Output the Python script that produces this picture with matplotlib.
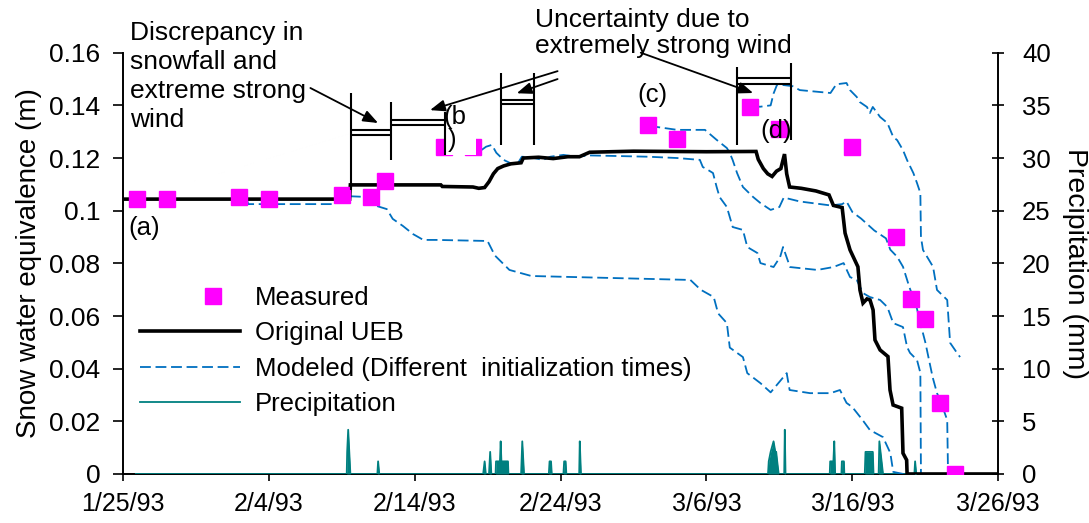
import matplotlib
matplotlib.use("Agg")
import matplotlib.pyplot as plt
from matplotlib.lines import Line2D
from matplotlib.patches import Rectangle
from matplotlib.ticker import FuncFormatter
from matplotlib.legend_handler import HandlerLine2D

plt.rcParams['font.family'] = ['Liberation Sans', 'DejaVu Sans']

# x values are days after 1/25/93
tick_days = [0, 10, 20, 30, 40, 50, 60]
tick_labels = ["1/25/93", "2/4/93", "2/14/93", "2/24/93", "3/6/93", "3/16/93", "3/26/93"]
swe_ticks = [0, 0.02, 0.04, 0.06, 0.08, 0.10, 0.12, 0.14, 0.16]
precip_ticks = [0, 5, 10, 15, 20, 25, 30, 35, 40]

measured_day = [1, 3, 8, 10, 15, 17, 18, 22, 24, 36, 38, 43, 45, 50, 53, 54, 55, 56, 57]
measured_swe = [0.1044, 0.1044, 0.1053, 0.1044, 0.1060, 0.1053, 0.1113, 0.1243, 0.1243,
                0.1325, 0.1273, 0.1395, 0.1310, 0.1243, 0.0901, 0.0665, 0.0589, 0.0270, 0.0]

ueb_day = [0, 15.55, 15.6, 21.8, 21.9, 24.0, 24.4, 24.8, 25.1, 25.4, 25.7, 26.1, 26.6, 27.3,
           27.45, 28.5, 29.5, 30.5, 31.3, 32.0, 35.0, 40.0, 43.4, 43.55, 43.9, 44.2, 44.5,
           44.8, 45.1, 45.35, 45.5, 45.7, 46.5, 47.5, 48.4, 48.7, 49.3, 49.5, 49.84, 50.38,
           50.52, 50.73, 51.0, 51.21, 51.42, 51.55, 51.9, 52.44, 52.58, 52.79, 53.38, 53.47,
           53.72, 53.75, 60.0]
ueb_swe = [0.1044, 0.1044, 0.1098, 0.1098, 0.1092, 0.1090, 0.1085, 0.1088, 0.1110, 0.1140,
           0.1160, 0.1170, 0.1178, 0.1182, 0.1200, 0.1203, 0.1198, 0.1205, 0.1205, 0.1222,
           0.1226, 0.1224, 0.1225, 0.1195, 0.1160, 0.1140, 0.1130, 0.1150, 0.1160, 0.1215,
           0.1140, 0.1090, 0.1085, 0.1075, 0.1060, 0.1020, 0.1012, 0.0915, 0.0851, 0.0787,
           0.0699, 0.0649, 0.0665, 0.0661, 0.0623, 0.0509, 0.0471, 0.0446, 0.0319, 0.0262,
           0.0250, 0.0079, 0.0053, 0.0, 0.0]

# model runs started at different initialization times
run_a_day = [0, 8.5, 8.6, 14.5, 15.5, 16.8, 17.4, 18.1, 18.5, 19.2, 19.9, 20.6, 21.5, 25.0,
             25.5, 26.5, 28.0, 38.9, 39.6, 40.5, 40.8, 41.4, 41.6, 42.5, 42.8, 43.7, 44.4,
             45.5, 45.7, 47.1, 48.5, 49.15, 49.6, 50.0, 50.7, 51.2, 52.1, 52.6, 52.8, 53.5]
run_a_swe = [0.1044, 0.1044, 0.1025, 0.1025, 0.1055, 0.1052, 0.1018, 0.1006, 0.0969, 0.0942,
             0.0911, 0.0889, 0.0889, 0.0885, 0.0830, 0.0775, 0.0752, 0.0737, 0.0700, 0.0672,
             0.0610, 0.0573, 0.0480, 0.0444, 0.0383, 0.0345, 0.0310, 0.0383, 0.0319, 0.0307,
             0.0307, 0.0319, 0.0270, 0.0254, 0.0205, 0.0167, 0.0140, 0.0080, 0.0008, 0.0]

run_b_day = [24.6, 24.9, 25.3, 25.6, 26.1, 26.55, 27.0, 27.35, 27.9, 28.8, 29.3, 30.2, 31.1,
             32.0, 36.0, 38.0, 39.55, 39.75, 40.1, 40.45, 40.7, 40.9, 41.4, 41.8, 42.5, 42.8,
             43.5, 43.7, 44.6, 45.05, 45.25, 45.73, 46.4, 47.6, 48.7, 49.4, 49.84, 50.3,
             50.73, 51.2, 51.9, 52.4, 52.8, 53.47, 53.75, 53.95, 54.43, 54.66, 54.7, 55.0]
run_b_swe = [0.1231, 0.1243, 0.1250, 0.1220, 0.1193, 0.1181, 0.1173, 0.1205, 0.1203, 0.1193,
             0.1205, 0.1212, 0.1205, 0.1210, 0.1205, 0.1200, 0.1193, 0.1166, 0.1155, 0.1143,
             0.1090, 0.1052, 0.1014, 0.0938, 0.0927, 0.0862, 0.0839, 0.0801, 0.0786, 0.0824,
             0.0862, 0.0786, 0.0782, 0.0775, 0.0786, 0.0801, 0.0748, 0.0737, 0.0687, 0.0672,
             0.0661, 0.0634, 0.0573, 0.0558, 0.0482, 0.0460, 0.0433, 0.0384, 0.0, 0.0]

run_c_day = [36.1, 36.6, 38.0, 39.9, 40.7, 41.4, 41.6, 41.8, 42.1, 42.5, 43.2, 43.7, 44.4,
             45.0, 45.3, 46.4, 48.5, 49.3, 49.6, 50.0, 50.6, 51.5, 52.3, 52.6, 53.07, 53.47,
             53.9, 54.4, 54.66, 55.0, 55.5, 55.8, 56.0, 56.5, 56.55, 56.6]
run_c_swe = [0.1325, 0.1318, 0.1307, 0.1307, 0.1269, 0.1238, 0.1219, 0.1192, 0.1143, 0.1090,
             0.1052, 0.1029, 0.1003, 0.1014, 0.1050, 0.1035, 0.1020, 0.1025, 0.1035, 0.0995,
             0.0970, 0.0925, 0.0895, 0.0852, 0.0825, 0.0787, 0.0711, 0.0634, 0.0573, 0.0500,
             0.0368, 0.0307, 0.0283, 0.0205, 0.0025, 0.0]

run_d_day = [43.1, 43.7, 44.4, 44.6, 44.85, 45.9, 46.4, 48.5, 48.9, 49.6, 49.84, 50.3, 50.5,
             51.0, 51.2, 51.4, 51.9, 52.4, 52.8, 53.07, 53.47, 53.75, 54.18, 54.43, 54.66,
             54.7, 54.84, 55.53, 55.8, 56.5, 56.7, 57.17, 57.38]
run_d_swe = [0.1395, 0.1395, 0.1400, 0.1445, 0.1480, 0.1473, 0.1458, 0.1447, 0.1480, 0.1485,
             0.1458, 0.1432, 0.1413, 0.1394, 0.1371, 0.1394, 0.1356, 0.1333, 0.1280, 0.1268,
             0.1230, 0.1192, 0.1143, 0.1105, 0.1067, 0.0900, 0.0851, 0.0787, 0.0699, 0.0661,
             0.0498, 0.0460, 0.0444]

runs = [(run_a_day, run_a_swe), (run_b_day, run_b_swe),
        (run_c_day, run_c_swe), (run_d_day, run_d_swe)]

precip_day = [0.9, 15.35, 15.38, 15.45, 15.6, 17.45, 17.5, 17.58, 24.7, 24.8, 24.88, 25.1, 25.18,
              25.26, 25.55, 25.58, 25.85, 25.9, 25.95, 26.4, 26.43, 27.3, 27.38, 27.5, 29.2,
              29.25, 29.35, 29.4, 30.2, 30.25, 30.35, 30.4, 31.28, 31.32, 31.4, 44.22, 44.27,
              44.4, 44.6, 44.72, 44.78, 44.85, 44.95, 45.33, 45.37, 45.42, 48.45, 48.48, 48.7,
              48.76, 48.82, 49.25, 49.28, 49.42, 49.45, 50.85, 50.9, 51.4, 51.45, 51.8, 51.85,
              52.1, 54.25, 54.3, 54.38, 60.0]
precip_mm = [0, 0, 2.1, 4.2, 0, 0, 1.2, 0, 0, 1.2, 0, 0, 2.1,
             0, 0, 1.2, 1.2, 3.1, 1.2, 1.2, 0, 0, 3.1, 0, 0,
             1.2, 1.2, 0, 0, 1.2, 1.2, 0, 0, 3.1, 0, 0, 1.2,
             2.1, 3.1, 2.1, 2.1, 1.2, 0, 0, 4.2, 0, 0, 1.2, 1.2,
             3.1, 0, 0, 1.2, 1.2, 0, 0, 2.1, 2.1, 0, 0, 3.1,
             0, 0, 1.2, 0, 0]

BLUE = '#0070C0'
TEAL = '#008080'
MAGENTA = '#FF00FF'
FS = 18.5


class OffsetMarkerHandler(HandlerLine2D):
    """Legend handler that puts a lone marker towards the right of the handle."""

    def get_xdata(self, legend, xdescent, ydescent, width, height, fontsize):
        pos = -xdescent + 0.73 * width
        return [pos, pos], [pos]


fig = plt.figure(figsize=(10.89, 5.23), dpi=100)
ax = fig.add_axes([0.1127, 0.0937, 0.8040, 0.8055])
ax2 = ax.twinx()

# precipitation drawn inside the SWE axes but scaled by the right-hand axis
ax.fill_between(precip_day, precip_mm, 0, color=TEAL, lw=0, zorder=2.6,
                transform=ax2.transData)
ax.plot(precip_day, precip_mm, color=TEAL, lw=1.3, zorder=2.7, transform=ax2.transData)

for d, s in runs:
    ax.plot(d, s, color=BLUE, lw=1.3, ls=(0, (6, 2.6)), zorder=3)

ax.plot(ueb_day, ueb_swe, color='black', lw=2.6, zorder=4, solid_joinstyle='miter')
ax.plot(measured_day, measured_swe, ls='none', marker='s', ms=11.5, color=MAGENTA,
        mec=MAGENTA, zorder=5)

# label box for (b)
ax.add_patch(Rectangle((22.1, 0.1212), 2.1, 0.0163, facecolor='white', edgecolor='none',
                       zorder=6))

ax.set_xlim(0, 60)
ax.set_ylim(0, 0.16)
ax2.set_ylim(0, 40)

ax.set_xticks(tick_days)
ax.set_xticklabels(tick_labels)
ax.set_yticks(swe_ticks)
ax.yaxis.set_major_formatter(FuncFormatter(lambda v, p: f"{v:g}"))
ax2.set_yticks(precip_ticks)

for sp in ['top', 'right']:
    ax.spines[sp].set_visible(False)
for sp in ['top', 'left', 'bottom']:
    ax2.spines[sp].set_visible(False)
for sp in ax.spines.values():
    sp.set_linewidth(1.4)
ax2.spines['right'].set_linewidth(1.4)

ax.tick_params(axis='y', direction='out', length=7, width=1.2, labelsize=19, pad=9)
ax.tick_params(axis='x', direction='out', length=5, width=1.2, labelsize=18, pad=8)
ax2.tick_params(axis='y', direction='inout', length=9, width=1.2, labelsize=18.5, pad=12.5)

ax.set_ylabel("Snow water equivalence (m)", fontsize=20, labelpad=5.5)
ax2.set_ylabel("Precipitation (mm)", fontsize=20.5, rotation=270, labelpad=27)

# brackets marking the periods of interest
lk = dict(color='black', lw=1.5, zorder=7, clip_on=False, solid_capstyle='butt')
ax.plot([15.62, 15.62], [0.1079, 0.1447], **lk)
ax.plot([18.39, 18.39], [0.1193, 0.1414], **lk)
ax.plot([15.62, 18.39], [0.1306, 0.1306], **lk)
ax.plot([15.62, 18.39], [0.1288, 0.1288], **lk)
ax.plot([18.39, 22.09], [0.1345, 0.1345], **lk)
ax.plot([18.39, 22.09], [0.1326, 0.1326], **lk)
ax.plot([22.09, 22.09], [0.1212, 0.1376], **lk)
ax.plot([25.92, 25.92], [0.1250, 0.1523], **lk)
ax.plot([28.21, 28.21], [0.1250, 0.1523], **lk)
ax.plot([25.92, 28.21], [0.1420, 0.1420], **lk)
ax.plot([25.92, 28.21], [0.1404, 0.1404], **lk)
ax.plot([42.08, 42.08], [0.1250, 0.1547], **lk)
ax.plot([45.80, 45.80], [0.1268, 0.1561], **lk)
ax.plot([42.08, 45.80], [0.1503, 0.1503], **lk)
ax.plot([42.08, 45.80], [0.1481, 0.1481], **lk)

ap = dict(arrowstyle='-|>,head_length=0.9,head_width=0.35', color='black', lw=1.3,
          shrinkA=0, shrinkB=0)
ax.annotate('', xy=(17.5, 0.1333), xytext=(12.86, 0.1466), arrowprops=ap,
            annotation_clip=False, zorder=8)
ax.annotate('', xy=(21.06, 0.1382), xytext=(29.8, 0.1530), arrowprops=ap,
            annotation_clip=False, zorder=8)
ax.annotate('', xy=(27.0, 0.1446), xytext=(29.8, 0.1500), arrowprops=ap,
            annotation_clip=False, zorder=8)
ax.annotate('', xy=(43.2, 0.1447), xytext=(35.5, 0.1600), arrowprops=ap,
            annotation_clip=False, zorder=8)

ax.text(0.5, 0.1722, "Discrepancy in\nsnowfall and\nextreme strong\nwind", fontsize=19,
        ha='left', va='top', linespacing=1.27, zorder=8)
ax.text(28.26, 0.1770, "Uncertainty due to\nextremely strong wind", fontsize=19,
        ha='left', va='top', linespacing=1.13, zorder=8)
ax.text(0.37, 0.0934, "(a)", fontsize=FS, ha='left', va='center', zorder=8)
ax.text(22.0, 0.1356, "(b", fontsize=FS, ha='left', va='center', zorder=8)
ax.text(22.3, 0.1268, ")", fontsize=FS, ha='left', va='center', zorder=8)
ax.text(36.27, 0.1439, "(c)", fontsize=FS, ha='center', va='center', zorder=8)
ax.text(44.78, 0.1303, "(d)", fontsize=FS, ha='center', va='center', zorder=8)

marker_handle = Line2D([], [], ls='none', marker='s', ms=11.5, color=MAGENTA)
handles = [
    marker_handle,
    Line2D([], [], color='black', lw=2.6),
    Line2D([], [], color=BLUE, lw=1.3, ls=(0, (6, 2.6))),
    Line2D([], [], color=TEAL, lw=1.3),
]
labels = ["Measured", "Original UEB", "Modeled (Different  initialization times)",
          "Precipitation"]
leg = ax.legend(handles, labels, loc='upper left', bbox_to_anchor=(0.0198, 0.446),
                frameon=False, fontsize=FS, handlelength=3.9, handletextpad=0.58,
                labelspacing=0.44, borderpad=0, borderaxespad=0, numpoints=1,
                handler_map={marker_handle: OffsetMarkerHandler(numpoints=1)})
leg.set_zorder(9)

fig.savefig("out.png", dpi=100)
